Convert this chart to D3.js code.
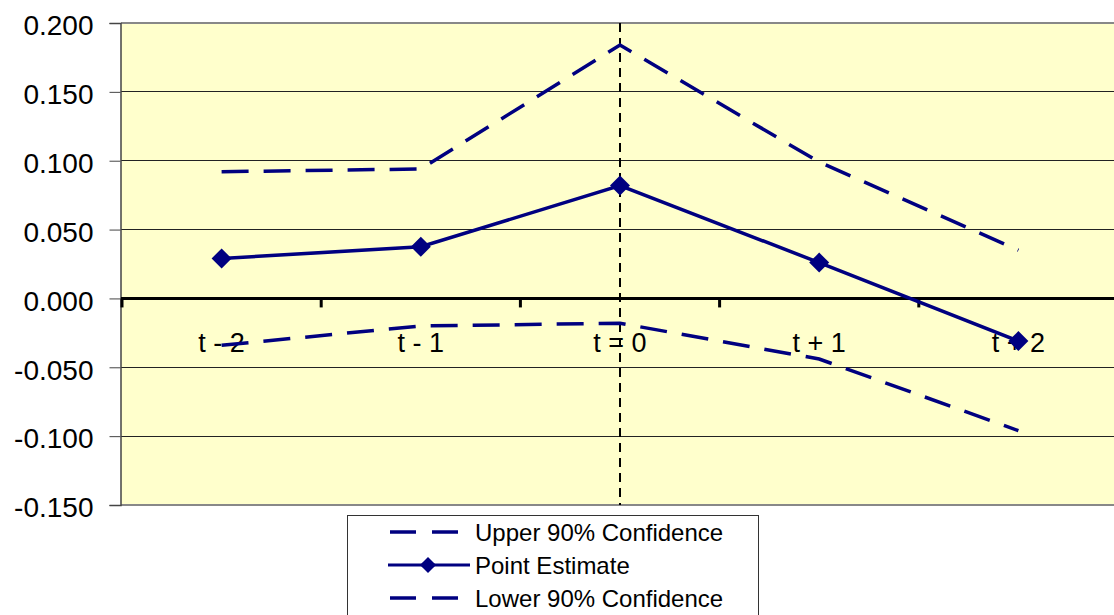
<!DOCTYPE html>
<html><head><meta charset="utf-8">
<script src="https://cdn.jsdelivr.net/npm/d3@7"></script>
<style>body{margin:0;background:#fff}svg{display:block}text{font-family:"Liberation Sans",Arial,sans-serif;fill:#000}</style>
</head><body><svg id="c" width="1114" height="615"></svg>
<script>
const categories = ["t - 2","t - 1","t = 0","t + 1","t + 2"];
const upper = [0.092, 0.094, 0.184, 0.099, 0.035];
const point = [0.029, 0.0375, 0.082, 0.026, -0.031];
const lower = [-0.034, -0.020, -0.018, -0.044, -0.096];
const yTicks = [0.200, 0.150, 0.100, 0.050, 0.000, -0.050, -0.100, -0.150];
const legendLabels = ["Upper 90% Confidence","Point Estimate","Lower 90% Confidence"];

const svg = d3.select("#c");
const L = 121, R = 1116, T = 23, B = 505;
const x = d3.scaleBand().domain(categories).range([L + 1, R + 2]);
const y = d3.scaleLinear().domain([-0.15, 0.2]).range([B, T]);
const cx = d => x(d) + x.bandwidth()/2;
const navy = "#000080";

// plot background
svg.append("rect").attr("x", L).attr("y", T).attr("width", R - L).attr("height", B - T).attr("fill", "#FFFFCC");
// gridlines
svg.append("g").selectAll("line").data(yTicks).join("line")
  .attr("x1", L).attr("x2", R).attr("y1", d => y(d)).attr("y2", d => y(d))
  .attr("stroke", "#222").attr("stroke-width", 1).attr("shape-rendering","crispEdges");
// plot border top/bottom
svg.append("line").attr("x1", L).attr("x2", R).attr("y1", T).attr("y2", T).attr("stroke", "#888").attr("stroke-width", 2);
svg.append("line").attr("x1", L).attr("x2", R).attr("y1", B).attr("y2", B).attr("stroke", "#888").attr("stroke-width", 2);

// y axis
const yAxis = d3.axisLeft(y).tickValues(yTicks).tickSize(11).tickPadding(16)
  .tickFormat(d => d3.format(".3f")(d).replace("\u2212", "-"));
const ya = svg.append("g").attr("transform", `translate(${L - 0.5},0)`).call(yAxis);
ya.select(".domain").attr("stroke", "#444").attr("stroke-width", 1.5);
ya.selectAll(".tick line").attr("stroke", "#444");
ya.selectAll(".tick text").attr("font-size", 28).attr("dy", "0.42em").style("font-family", '"Liberation Sans",Arial,sans-serif');

// vertical dashed line at t = 0
svg.append("line").attr("x1", cx("t = 0")).attr("x2", cx("t = 0")).attr("y1", T).attr("y2", B)
  .attr("stroke", "#000").attr("stroke-width", 2).attr("stroke-dasharray", "9,6");

// x axis at zero
const xa = svg.append("g").attr("transform", `translate(0,${y(0)})`);
xa.append("line").attr("x1", L).attr("x2", R).attr("stroke", "#000").attr("stroke-width", 3);
xa.selectAll("line.tk").data(categories).join("line").attr("class", "tk")
  .attr("x1", d => x(d)).attr("x2", d => x(d)).attr("y1", 0).attr("y2", 9)
  .attr("stroke", "#000").attr("stroke-width", 3);
xa.selectAll("text").data(categories).join("text")
  .attr("x", d => cx(d)).attr("y", 54).attr("text-anchor", "middle").attr("font-size", 27).text(d => d);

// series
const line = d3.line().x((d, i) => cx(categories[i])).y(d => y(d));
svg.append("path").datum(upper).attr("d", line).attr("fill", "none").attr("stroke", navy).attr("stroke-width", 3.5).attr("stroke-dasharray", "27,15");
svg.append("path").datum(lower).attr("d", line).attr("fill", "none").attr("stroke", navy).attr("stroke-width", 3.5).attr("stroke-dasharray", "27,15");
svg.append("path").datum(point).attr("d", line).attr("fill", "none").attr("stroke", navy).attr("stroke-width", 3.5);
const diamond = d3.symbol().type(d3.symbolSquare).size(200)();
svg.append("g").selectAll("path").data(point).join("path")
  .attr("d", diamond).attr("fill", navy)
  .attr("transform", (d, i) => `translate(${cx(categories[i])},${y(d)}) rotate(45)`);

// legend
const lg = svg.append("g");
lg.append("rect").attr("x", 347.5).attr("y", 515.5).attr("width", 411).attr("height", 120).attr("fill", "#fff").attr("stroke", "#333").attr("stroke-width", 1);
const rows = [532, 565, 598];
legendLabels.forEach((t, i) => {
  const yy = rows[i];
  if (i === 1) {
    lg.append("line").attr("x1", 388).attr("x2", 470).attr("y1", yy).attr("y2", yy).attr("stroke", navy).attr("stroke-width", 3);
    lg.append("path").attr("d", d3.symbol().type(d3.symbolSquare).size(130)()).attr("fill", navy).attr("transform", `translate(428,${yy}) rotate(45)`);
  } else {
    lg.append("line").attr("x1", 390).attr("x2", 460).attr("y1", yy).attr("y2", yy).attr("stroke", navy).attr("stroke-width", 3.5).attr("stroke-dasharray", "26,16");
  }
  lg.append("text").attr("x", 475).attr("y", yy + 8.5).attr("font-size", 24).text(t);
});
</script></body></html>
